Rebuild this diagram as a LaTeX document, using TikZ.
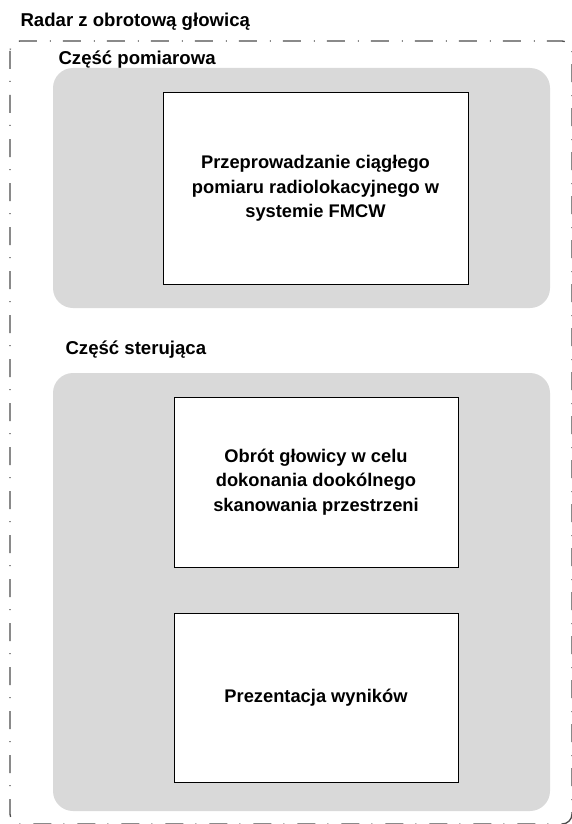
\documentclass[tikz,border=0pt]{standalone}
\usepackage{fontspec}
\setmainfont{Liberation Sans}
\begin{document}
\begin{tikzpicture}[x=1pt,y=-1pt,
  frame/.style={draw=black!70, line width=1.3pt, rounded corners=10pt,
    dash pattern=on 18pt off 12pt on 1pt off 13pt},
  group/.style={fill=black!15, rounded corners=20pt},
  stepbox/.style={draw=black, line width=1pt, fill=white},
  boxtext/.style={font=\bfseries\fontsize{18.3}{24.4}\selectfont, align=center},
  heading/.style={font=\bfseries\fontsize{18.6}{22}\selectfont, anchor=west}]
\useasboundingbox (0,0) rectangle (571,824);
% outer dash-dot frame
\draw[frame] (10,41) rectangle (572,824);
\node[heading] (title) at (17,22) {Radar z obrotową głowicą};
% measurement part
\node[heading] (lab1) at (55,60) {Część pomiarowa};
\fill[group] (53,68) rectangle (550,308);
\node[stepbox, minimum width=305pt, minimum height=191pt] (b1) at (315.5,188.5) {};
\node[boxtext] (t1) at (b1) {Przeprowadzanie ciągłego\\pomiaru radiolokacyjnego w\\systemie FMCW};
% control part
\node[heading] (lab2) at (62,350) {Część sterująca};
\fill[group] (53,373) rectangle (550,811);
\node[stepbox, minimum width=284pt, minimum height=170pt] (b2) at (316,482) {};
\node[boxtext] (t2) at (b2) {Obrót głowicy w celu\\dokonania dookólnego\\skanowania przestrzeni};
\node[stepbox, minimum width=284pt, minimum height=169pt] (b3) at (316,697.5) {};
\node[boxtext] (t3) at (b3) {Prezentacja wyników};
\end{tikzpicture}
\end{document}
